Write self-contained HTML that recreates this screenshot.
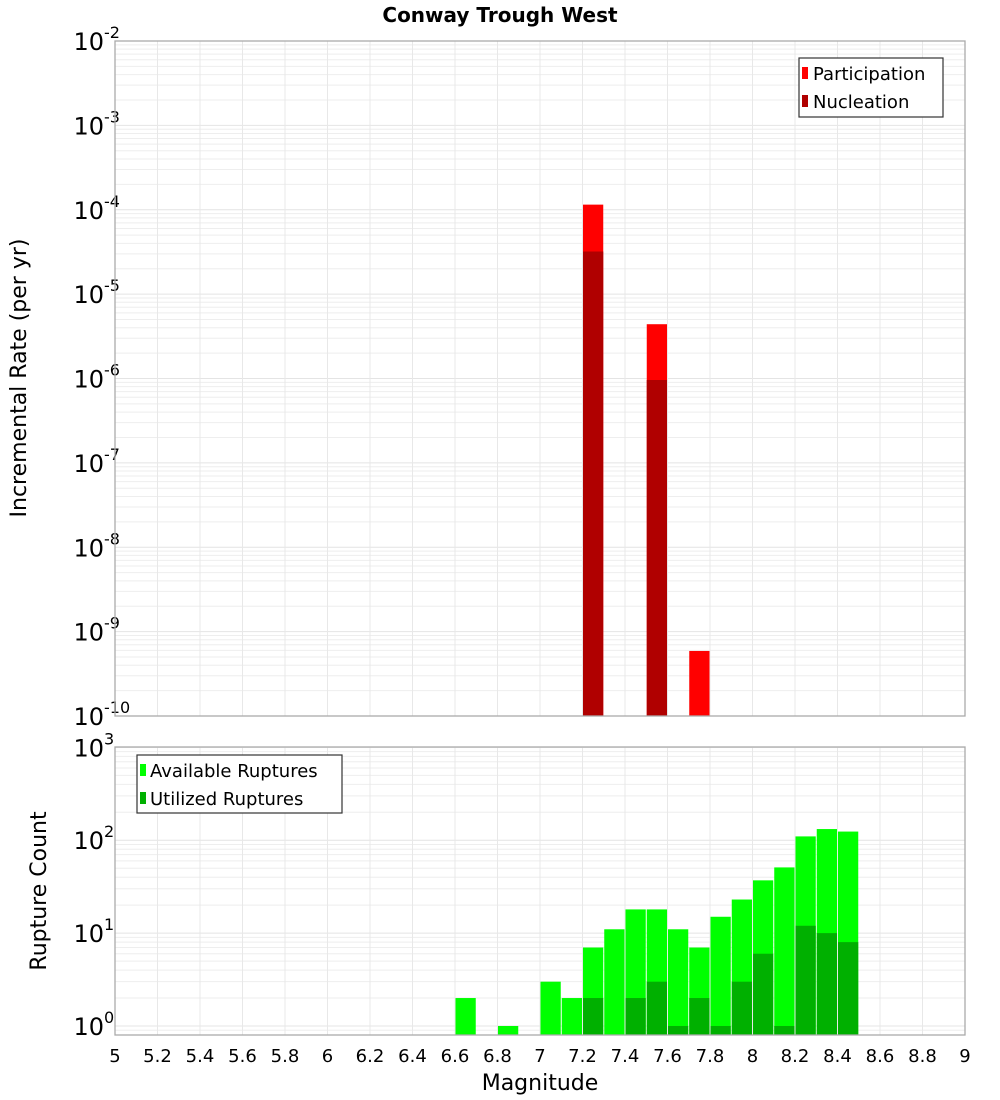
<!DOCTYPE html>
<html><head><meta charset="utf-8"><style>
body{margin:0;background:#fff}
svg{display:block;font-family:"DejaVu Sans","Liberation Sans",sans-serif}
</style></head><body>
<svg id="c" width="1000" height="1100" xmlns="http://www.w3.org/2000/svg">
<text x="500" y="22" text-anchor="middle" font-weight="bold" font-size="20">Conway Trough West</text>
<g id="gtop"></g>
<g id="gbot"></g>
<text transform="translate(26,378) rotate(-90)" text-anchor="middle" font-size="22">Incremental Rate (per yr)</text>
<text transform="translate(46,891) rotate(-90)" text-anchor="middle" font-size="22">Rupture Count</text>
<text x="540" y="1090" text-anchor="middle" font-size="22">Magnitude</text>
<g>
<rect x="799" y="58" width="144" height="59" fill="#fff" stroke="#333" stroke-width="1.2"/>
<rect x="802" y="67" width="6" height="12" fill="#ff0000"/>
<text x="813" y="80" font-size="18">Participation</text>
<rect x="802" y="95" width="6" height="12" fill="#b00000"/>
<text x="813" y="108" font-size="18">Nucleation</text>
</g>
<g>
<rect x="137" y="755" width="205" height="58" fill="#fff" stroke="#333" stroke-width="1.2"/>
<rect x="140" y="764" width="6" height="12" fill="#00ff00"/>
<text x="150" y="777" font-size="18">Available Ruptures</text>
<rect x="140" y="792" width="6" height="12" fill="#00b000"/>
<text x="150" y="805" font-size="18">Utilized Ruptures</text>
</g>
</svg>
<script>
const xTicks=[5,5.2,5.4,5.6,5.8,6,6.2,6.4,6.6,6.8,7,7.2,7.4,7.6,7.8,8,8.2,8.4,8.6,8.8,9];
const xTickLabels=["5","5.2","5.4","5.6","5.8","6","6.2","6.4","6.6","6.8","7","7.2","7.4","7.6","7.8","8","8.2","8.4","8.6","8.8","9"];
const rateMags=[7.25,7.55,7.75];
const participation=[1.15e-4,4.4e-6,5.9e-10];
const nucleation=[3.2e-5,9.6e-7,0];
const rateExps=[-2,-3,-4,-5,-6,-7,-8,-9,-10];
const countMags=[6.65,6.85,7.05,7.15,7.25,7.35,7.45,7.55,7.65,7.75,7.85,7.95,8.05,8.15,8.25,8.35,8.45];
const available=[2,1,3,2,7,11,18,18,11,7,15,23,37,51,110,132,124];
const utilized=[0,0,0,0,2,0,2,3,1,2,1,3,6,1,12,10,8];
const countExps=[0,1,2,3];

const NS="http://www.w3.org/2000/svg";
const X0=115,X1=965;
const xs=m=>X0+(m-5)/4*(X1-X0);
const T={top:41,bot:716,lmin:-10,lmax:-2};
const B={top:747,bot:1035,lmin:-0.097,lmax:3.004};
const ys=(P,v)=>P.bot-(Math.log10(v)-P.lmin)/(P.lmax-P.lmin)*(P.bot-P.top);
function el(par,tag,attrs){const e=document.createElementNS(NS,tag);for(const k in attrs)e.setAttribute(k,attrs[k]);par.appendChild(e);return e;}
function panel(g,P,exps,name){
  for(let d=Math.floor(P.lmin);d<=Math.ceil(P.lmax);d++){
    for(let k=1;k<10;k++){const v=k*Math.pow(10,d);const lv=Math.log10(v);if(lv<P.lmin||lv>P.lmax)continue;
      const l=el(g,'line',{x1:X0,x2:X1,y1:ys(P,v),y2:ys(P,v),stroke:k==1?'#e4e4e4':'#eeeeee','stroke-width':1});
      
      }
  }
  xTicks.forEach(t=>{const l=el(g,'line',{x1:xs(t),x2:xs(t),y1:P.top,y2:P.bot,stroke:'#e8e8e8','stroke-width':1});
    
    });
  exps.forEach(e=>{const y=ys(P,Math.pow(10,e));
    const t=el(g,'text',{x:104,y:y+9,'text-anchor':'end','font-size':24});
    
    
    t.textContent='10';
    const s=el(g,'text',{x:104,y:y-3,'font-size':16});
    
    
    s.textContent=String(e);});
}
const gTop=document.getElementById('gtop'),gBot=document.getElementById('gbot');
panel(gTop,T,rateExps,'rate');
panel(gBot,B,countExps,'count');
const bw=0.1*(X1-X0)/4;
function bar(g,P,m,v,fill,name){if(!(v>0))return;const y=ys(P,v);
  const r=el(g,'rect',{x:xs(m)-bw/2+0.5,y:y,width:bw-1,height:P.bot-y,fill:fill});
  
  }
rateMags.forEach((m,i)=>{bar(gTop,T,m,participation[i],'#ff0000','bar-participation');bar(gTop,T,m,nucleation[i],'#b00000','bar-nucleation');});
countMags.forEach((m,i)=>{bar(gBot,B,m,available[i],'#00ff00','bar-available');bar(gBot,B,m,utilized[i],'#00b000','bar-utilized');});
[T,B].forEach((P,j)=>{const r=el(j?gBot:gTop,'rect',{x:X0,y:P.top,width:X1-X0,height:P.bot-P.top,fill:'none',stroke:'#aaa','stroke-width':1.3});
  
  });
xTicks.forEach((t,i)=>{const tx=el(gBot,'text',{x:xs(t),y:1062,'text-anchor':'middle','font-size':18});
  
  
  tx.textContent=xTickLabels[i];});
</script>
</body></html>
